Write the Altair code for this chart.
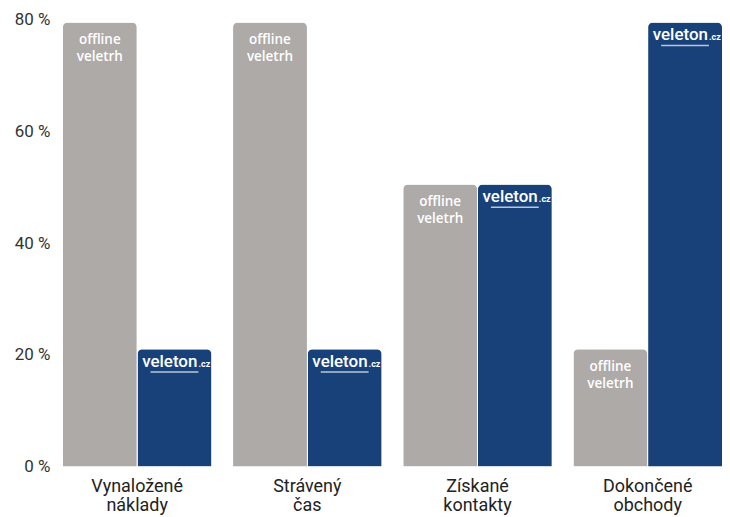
import altair as alt
import pandas as pd

categories = ["Vynaložené náklady", "Strávený čas", "Získané kontakty", "Dokončené obchody"]
series_names = ["offline", "veleton"]
offline_values = [79.5, 79.5, 50.5, 21]
veleton_values = [21, 21, 50.5, 79.5]
y_ticks = [0, 20, 40, 60, 80]

rows = []
for c, o, v in zip(categories, offline_values, veleton_values):
    rows.append({"cat": c, "series": "offline", "value": o})
    rows.append({"cat": c, "series": "veleton", "value": v})
df = pd.DataFrame(rows)

GRAY = "#aeaaa8"
BLUE = "#18417a"

x_enc = alt.X("cat:N", sort=categories, title=None,
              scale=alt.Scale(paddingInner=0.127, paddingOuter=0),
              axis=alt.Axis(labelExpr="split(datum.label, ' ')", labelAngle=0,
                            labelFontSize=18, labelColor="#222222", labelFont="Roboto",
                            labelLineHeight=19, labelPadding=11, labelBaseline="top",
                            domain=False, ticks=False))
xo_enc = alt.XOffset("series:N", sort=series_names,
                     scale=alt.Scale(domain=series_names, paddingInner=0.01, paddingOuter=0))
y_enc = alt.Y("value:Q", title=None,
              scale=alt.Scale(domain=[0, 80], nice=False),
              axis=alt.Axis(values=y_ticks, labelExpr="datum.value + ' %'",
                            labelFontSize=17, labelColor="#333333", labelFont="Roboto",
                            labelPadding=13, domain=False, ticks=False, grid=False))

base = alt.Chart(df)

bars = base.mark_bar(cornerRadiusTopLeft=5, cornerRadiusTopRight=5).encode(
    x=x_enc, xOffset=xo_enc, y=y_enc,
    color=alt.Color("series:N", scale=alt.Scale(domain=series_names, range=[GRAY, BLUE]), legend=None),
)

offline_text = base.transform_filter("datum.series == 'offline'").mark_text(
    baseline="top", dy=11, lineBreak="\n", fontSize=13.5, fontWeight=600,
    font="Open Sans", color="#ffffff", lineHeight=17
).encode(x=x_enc, xOffset=xo_enc, y=y_enc, text=alt.value("offline\nveletrh"))

logo_main = base.transform_filter("datum.series == 'veleton'").mark_text(
    baseline="alphabetic", align="right", dy=18, dx=23, fontSize=17, fontWeight=500,
    font="Roboto", color="#ffffff"
).encode(x=x_enc, xOffset=xo_enc, y=y_enc, text=alt.value("veleton"))

logo_cz = base.transform_filter("datum.series == 'veleton'").mark_text(
    baseline="alphabetic", align="left", dy=18, dx=24, fontSize=9, fontWeight="bold",
    font="Roboto", color="#ffffff"
).encode(x=x_enc, xOffset=xo_enc, y=y_enc, text=alt.value(".cz"))

logo_line = base.transform_filter("datum.series == 'veleton'").mark_tick(
    yOffset=23, size=48, thickness=1.5, color="#ffffff"
).encode(x=x_enc, xOffset=xo_enc, y=y_enc)

chart = alt.layer(bars, offline_text, logo_main, logo_cz, logo_line).properties(
    width=661, height=448,
    autosize=alt.AutoSizeParams(type="none"),
    padding={"left": 55, "top": 11, "right": 0, "bottom": 50},
).configure_view(stroke=None)

chart.save("out.html", embed_options={"renderer": "svg", "actions": False})
